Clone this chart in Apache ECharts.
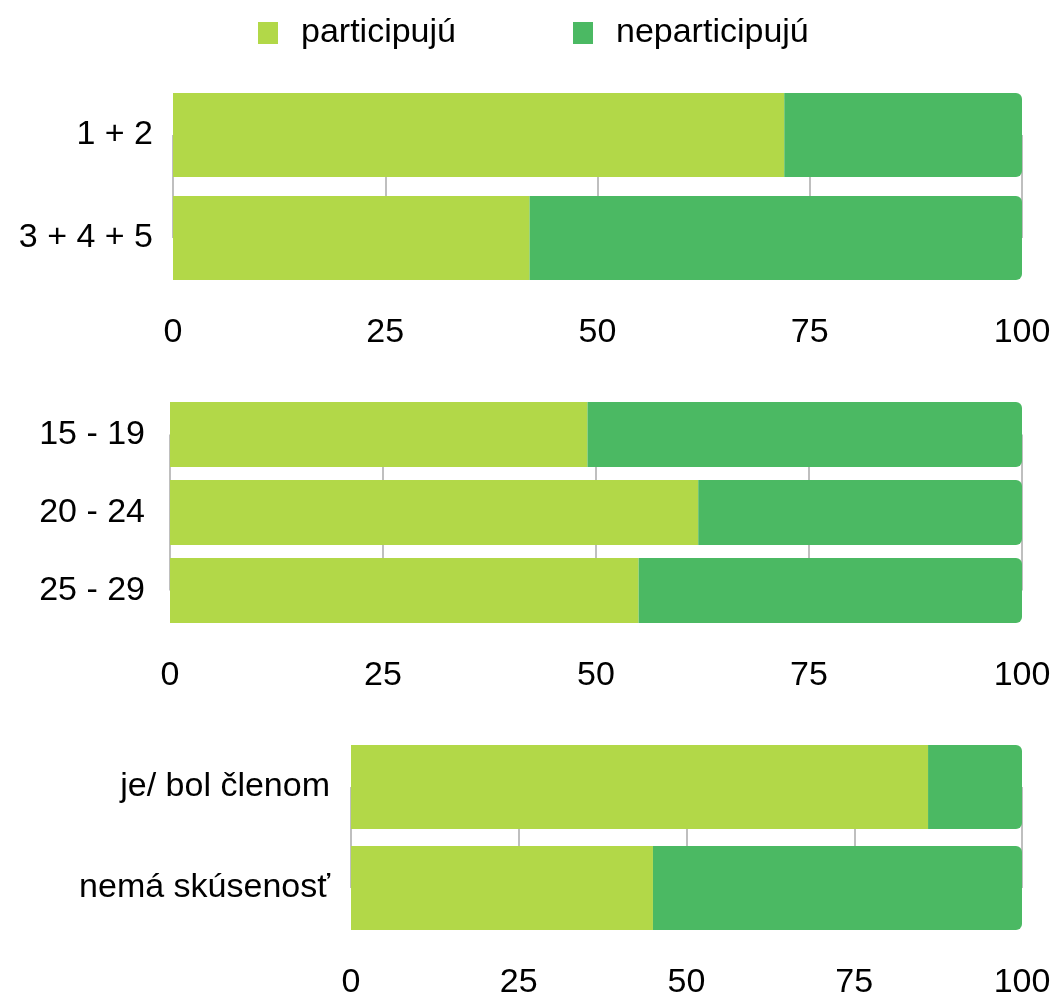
<!DOCTYPE html>
<html>
<head>
<meta charset="utf-8">
<script src="https://cdn.jsdelivr.net/npm/echarts@6/dist/echarts.min.js"></script>
<style>
  html, body { margin: 0; padding: 0; background: #fff; }
  #chart { width: 1059px; height: 1000px; }
</style>
</head>
<body>
<div id="chart"></div>
<script>
const seriesNames = ['participujú', 'neparticipujú'];

const catsTop = ['1 + 2', '3 + 4 + 5'];
const partTop = [72, 42];
const nonTop = [28, 58];

const catsMid = ['15 - 19', '20 - 24', '25 - 29'];
const partMid = [49, 62, 55];
const nonMid = [51, 38, 45];

const catsBot = ['je/ bol členom', 'nemá skúsenosť'];
const partBot = [86, 45];
const nonBot = [14, 55];

const xTicks = [0, 25, 50, 75, 100];

const LIGHT = '#b2d848';
const DARK = '#4bb963';
const GRID_LINE = '#bfbfbf';
const FONT = '"Liberation Sans", Arial, sans-serif';

const chart = echarts.init(document.getElementById('chart'), null, { renderer: 'canvas' });

// each panel: grid rect spans bar centres (boundaryGap false), so bars overflow by half
const panels = [
  { cats: catsTop, part: partTop, non: nonTop, left: 173, right: 37, top: 135, height: 103, barW: 84, labelMargin: 20, tickMargin: 78 },
  { cats: catsMid, part: partMid, non: nonMid, left: 170, right: 37, top: 434.5, height: 156, barW: 65, labelMargin: 25, tickMargin: 68 },
  { cats: catsBot, part: partBot, non: nonBot, left: 351, right: 37, top: 787, height: 103, barW: 84, labelMargin: 21, tickMargin: 78 },
];

const grid = [], xAxis = [], yAxis = [], series = [];

panels.forEach((p, i) => {
  grid.push({ left: p.left, right: p.right, top: p.top, height: p.height, containLabel: false });
  xAxis.push({
    type: 'value', gridIndex: i, min: 0, max: 100, interval: 25,
    axisLine: { show: false }, axisTick: { show: false },
    axisLabel: {
      color: '#000', fontSize: 34, fontFamily: FONT, margin: p.tickMargin,
      formatter: v => xTicks.includes(v) ? String(v) : '',
    },
    splitLine: { show: true, lineStyle: { color: GRID_LINE, width: 2 } },
  });
  yAxis.push({
    type: 'category', gridIndex: i, data: p.cats, inverse: true, boundaryGap: false,
    axisLine: { show: false }, axisTick: { show: false },
    axisLabel: { color: '#000', fontSize: 34, fontFamily: FONT, margin: p.labelMargin },
    splitLine: { show: false },
  });
  series.push({
    name: seriesNames[0], type: 'bar', stack: 'p' + i, xAxisIndex: i, yAxisIndex: i,
    data: p.part, barWidth: p.barW, clip: false,
    itemStyle: { color: LIGHT },
  });
  series.push({
    name: seriesNames[1], type: 'bar', stack: 'p' + i, xAxisIndex: i, yAxisIndex: i,
    data: p.non, barWidth: p.barW, clip: false,
    itemStyle: { color: DARK, borderRadius: [0, 6, 6, 0] },
  });
});

chart.setOption({
  animation: false,
  legend: {
    data: seriesNames.map(n => ({ name: n, itemStyle: { borderRadius: 1 } })),
    left: 253, top: 11,
    icon: 'rect', itemWidth: 20, itemHeight: 22, itemGap: 117,
    textStyle: { color: '#000', fontSize: 34, fontFamily: FONT, padding: [0, 0, 0, 18] },
  },
  grid, xAxis, yAxis, series,
});
</script>
</body>
</html>
